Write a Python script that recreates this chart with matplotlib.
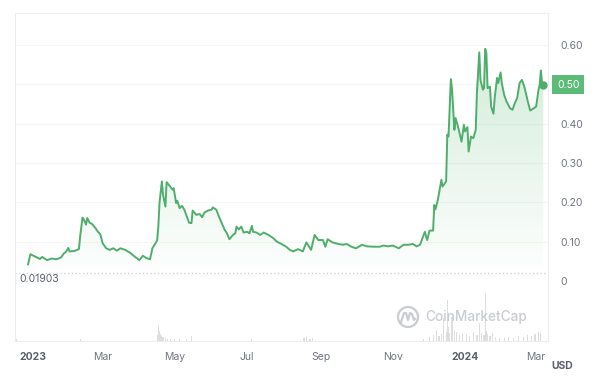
import numpy as np
import pandas as pd
import matplotlib
matplotlib.use("Agg")
import matplotlib.pyplot as plt
from matplotlib.patches import Ellipse, Polygon

plt.rcParams['font.family'] = ['Inter', 'DejaVu Sans']

# price (days since 2023-01-01, USD)
price_days = [-4, -2, 2, 6, 8, 12, 16, 20, 24, 26, 28, 30, 31, 35, 39, 40, 42, 43, 45, 46,
              48, 50, 53, 55, 57, 59, 62, 65, 68, 71, 74, 78, 82, 86, 90, 93, 96, 99, 101, 105,
              106, 107, 109, 110, 112, 113, 116, 118, 119, 121, 122, 124, 126, 128, 130, 132, 134, 135, 138, 141,
              143, 145, 148, 151, 152, 155, 157, 159, 162, 164, 166, 169, 171, 172, 174, 176, 178, 181, 183, 185,
              186, 189, 192, 195, 199, 203, 206, 210, 214, 217, 220, 224, 228, 231, 235, 238, 241, 245, 247, 249,
              253, 258, 262, 265, 269, 273, 278, 282, 288, 293, 296, 300, 304, 309, 313, 317, 321, 324, 327, 331,
              333, 335, 338, 339, 340, 342, 345, 346, 349, 350, 351, 353, 354, 356, 357, 359, 362, 364, 365, 367,
              368, 370, 372, 374, 375, 377, 378, 380, 381, 382, 383, 384, 386, 387, 389, 390, 392, 393, 395, 396,
              398, 400, 403, 405, 407, 409, 411, 413, 415, 417, 418, 420, 423, 425, 427, 428, 429, 430, 431]
price = [0.042, 0.068, 0.062, 0.056, 0.061, 0.053, 0.057, 0.055, 0.060, 0.069, 0.074, 0.084, 0.075, 0.076, 0.081, 0.113, 0.161, 0.157, 0.143, 0.160,
         0.148, 0.145, 0.134, 0.125, 0.119, 0.096, 0.083, 0.079, 0.083, 0.077, 0.083, 0.079, 0.072, 0.062, 0.053, 0.064, 0.058, 0.055, 0.083, 0.103,
         0.138, 0.198, 0.253, 0.219, 0.189, 0.251, 0.240, 0.232, 0.236, 0.198, 0.204, 0.185, 0.191, 0.181, 0.164, 0.148, 0.147, 0.179, 0.168, 0.170,
         0.162, 0.174, 0.179, 0.181, 0.187, 0.181, 0.165, 0.151, 0.130, 0.121, 0.106, 0.117, 0.121, 0.138, 0.131, 0.138, 0.123, 0.125, 0.121, 0.140,
         0.125, 0.123, 0.117, 0.123, 0.117, 0.109, 0.100, 0.094, 0.087, 0.079, 0.075, 0.081, 0.075, 0.098, 0.079, 0.117, 0.104, 0.104, 0.087, 0.106,
         0.098, 0.094, 0.092, 0.094, 0.087, 0.083, 0.092, 0.088, 0.087, 0.087, 0.090, 0.088, 0.090, 0.083, 0.092, 0.092, 0.094, 0.088, 0.092, 0.125,
         0.104, 0.128, 0.128, 0.193, 0.182, 0.206, 0.257, 0.240, 0.253, 0.372, 0.367, 0.513, 0.486, 0.384, 0.414, 0.393, 0.354, 0.397, 0.380, 0.391,
         0.329, 0.367, 0.363, 0.384, 0.478, 0.581, 0.511, 0.486, 0.490, 0.590, 0.579, 0.490, 0.494, 0.443, 0.425, 0.465, 0.516, 0.503, 0.530, 0.503,
         0.473, 0.456, 0.439, 0.435, 0.452, 0.465, 0.503, 0.511, 0.494, 0.469, 0.456, 0.433, 0.439, 0.443, 0.486, 0.499, 0.535, 0.503, 0.499]

# volume, relative heights
vol_days = [-14, 40, 105, 106, 107, 108, 109, 110, 112, 114, 116, 120, 124, 130, 134, 185, 229, 231, 234, 236,
            330, 335, 338, 341, 343, 345, 347, 349, 350, 351, 352, 354, 356, 358, 360, 363, 366, 369, 372, 375,
            377, 379, 381, 382, 383, 384, 386, 388, 391, 394, 398, 402, 406, 410, 414, 418, 421, 424, 427, 429]
vol = [2, 2, 6, 16, 10, 7, 5, 4, 3, 2, 2, 2, 2, 2, 5, 2, 3, 4, 2, 3,
       2, 4, 6, 11, 5, 7, 23, 9, 41, 14, 8, 24, 11, 9, 6, 8, 7, 5, 9, 6,
       18, 8, 6, 48, 10, 7, 5, 8, 4, 3, 3, 4, 3, 5, 4, 6, 5, 7, 9, 8]

x_ticks = ["2023-01-01", "2023-03-01", "2023-05-01", "2023-07-01",
           "2023-09-01", "2023-11-01", "2024-01-01", "2024-03-01"]
x_labels = ["2023", "Mar", "May", "Jul", "Sep", "Nov", "2024", "Mar"]
y_ticks = [0, 0.10, 0.20, 0.30, 0.40, 0.60]
y_labels = ["0", "0.10", "0.20", "0.30", "0.40", "0.60"]
low_value = 0.01903

green = "#4fae6b"
gray_txt = "#6f7580"
start = pd.Timestamp("2023-01-01")
dates = [start + pd.Timedelta(days=d) for d in price_days]
vdates = [start + pd.Timedelta(days=d) for d in vol_days]

fig = plt.figure(figsize=(6, 3.86), dpi=100)
ax = fig.add_axes([0.025, 0.1166, 0.8883, 0.8497])
vax = fig.add_axes([0.025, 0.1166, 0.8883, 0.8497], sharex=ax)
vax.patch.set_alpha(0)

ax.set_xlim(start + pd.Timedelta(days=-15), start + pd.Timedelta(days=435))
ax.set_ylim(-0.1526, 0.681)

for y in [0.1, 0.2, 0.3, 0.4, 0.5, 0.6]:
    ax.axhline(y, color="#f6f6f6", lw=0.8, zorder=0)
ax.axhline(low_value, color="#cfcfcf", lw=0.9, ls=(0, (1, 2)), zorder=1)

# gradient fill under the line
xn = matplotlib.dates.date2num(dates)
poly = Polygon(list(zip(xn, price)) + [(xn[-1], 0), (xn[0], 0)], closed=True,
               facecolor="none", edgecolor="none")
ax.add_patch(poly)
grad = np.zeros((100, 1, 4))
rgb = matplotlib.colors.to_rgb("#5dbb78")
grad[:, 0, :3] = rgb
grad[:, 0, 3] = np.linspace(0.28, 0.0, 100)
im = ax.imshow(grad, aspect="auto", extent=[xn[0], xn[-1], 0, 0.6], origin="upper", zorder=1)
im.set_clip_path(poly)

ax.plot(dates, price, color=green, lw=1.4, zorder=3)
ax.plot(dates[-1], price[-1], "o", color=green, ms=5, zorder=4)

# volume bars
vax.bar(vdates, vol, width=1.0, color="#dedede", zorder=1)
vax.set_ylim(0, 328)
vax.axis("off")

ax.set_xticks([pd.Timestamp(t) for t in x_ticks])
ax.set_xticklabels(x_labels)
for lab in ax.get_xticklabels():
    if lab.get_text() in ("2023", "2024"):
        lab.set_fontweight("bold")
        lab.set_color("#5a606b")
    else:
        lab.set_color(gray_txt)
ax.tick_params(axis="x", length=0, pad=8, labelsize=7.5)

ax.yaxis.tick_right()
ax.set_yticks(y_ticks)
ax.set_yticklabels(y_labels)
ax.tick_params(axis="y", length=0, pad=9, labelsize=7.5, labelcolor=gray_txt)

for s in ["top", "left", "right", "bottom"]:
    ax.spines[s].set_color("#ededed")
    ax.spines[s].set_linewidth(0.8)

# current price box
ax.text(1.0 + 9 / 533, price[-1], "0.50", transform=ax.get_yaxis_transform(),
        ha="left", va="center", fontsize=7.5, color="white",
        bbox=dict(boxstyle="square,pad=0.45", fc="#5dbb78", ec="none"))

# low label
ax.text(start + pd.Timedelta(days=-11), low_value - 0.002, "0.01903", ha="left", va="top",
        fontsize=7.5, color="#5a606b")

fig.text(551 / 600, 1 - 366 / 386, "USD", fontsize=7.5, fontweight="bold",
         color="#5a606b", ha="left", va="center")

# watermark
fig.add_artist(Ellipse((408 / 600, 1 - 317 / 386), 20 / 600, 20 / 386, fill=False,
                       ec="#c9ccd1", lw=1.6))
wx = np.array([401, 404, 406, 408, 410, 412, 414, 415]) / 600
wy = 1 - np.array([322, 313, 313, 320, 313, 314, 320, 319]) / 386
fig.add_artist(plt.Line2D(wx, wy, color="#c9ccd1", lw=1.6))
fig.text(425 / 600, 1 - 317 / 386, "CoinMarketCap", fontsize=9.8, color="#c9ccd1",
         ha="left", va="center", fontweight="medium")

fig.savefig("out.png", dpi=100)
